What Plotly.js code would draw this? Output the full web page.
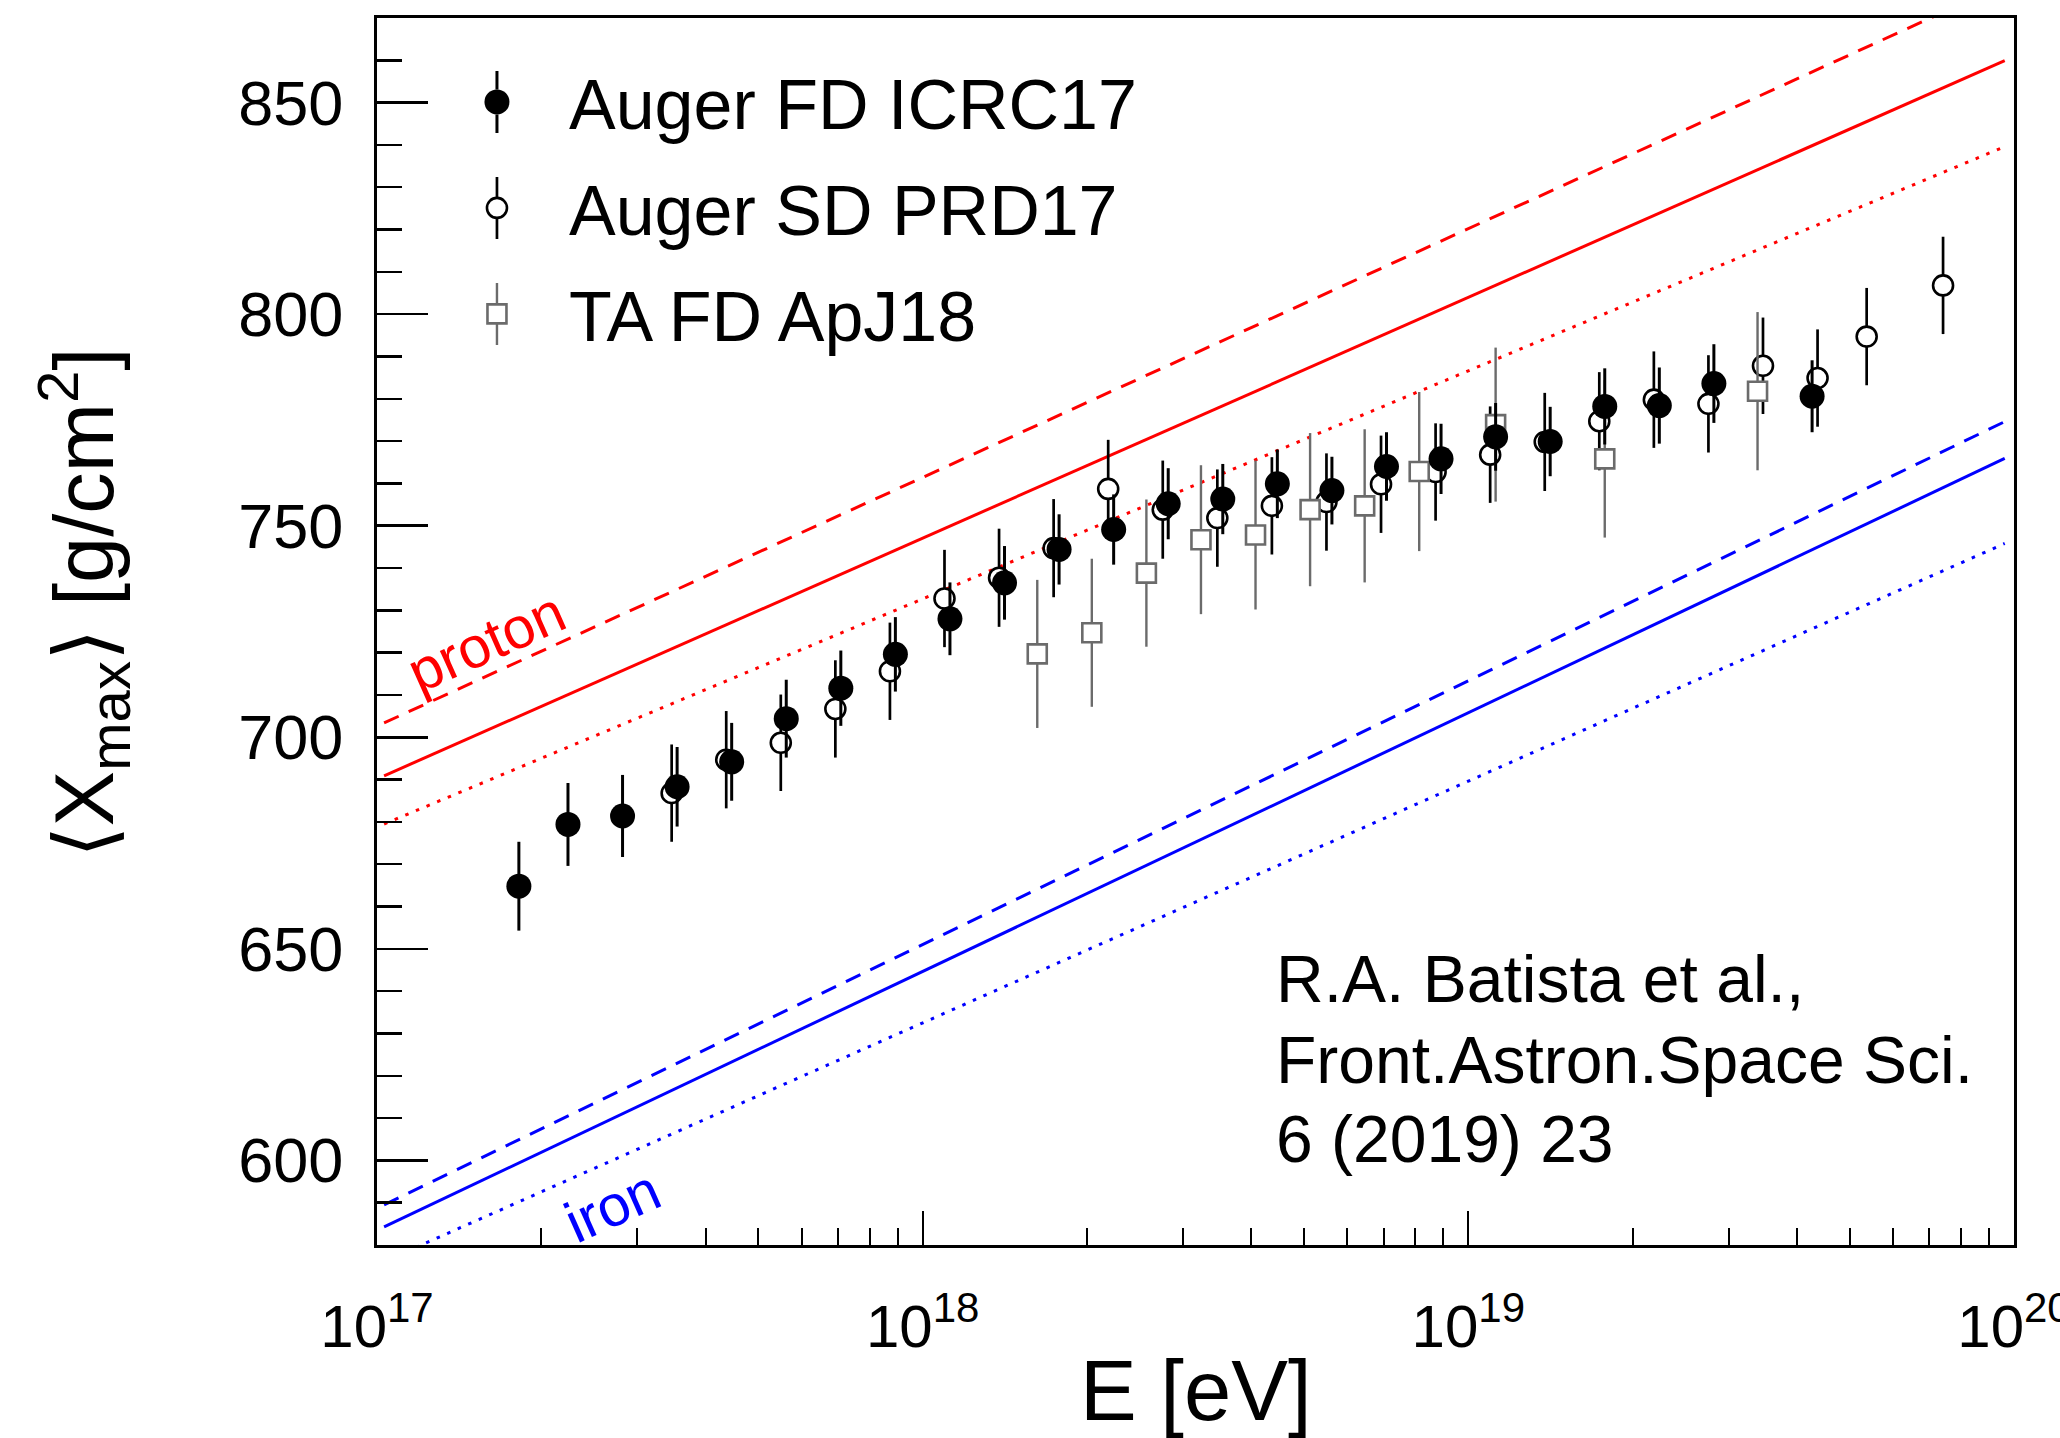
<!DOCTYPE html>
<html>
<head>
<meta charset="utf-8">
<script src="https://cdn.plot.ly/plotly-3.0.1.min.js"></script>
<style>
html, body { margin: 0; padding: 0; background: #ffffff; }
#chart { width: 2060px; height: 1438px; }
</style>
</head>
<body>
<div id="chart"></div>
<script>
// ---------------- data ----------------
// Auger FD ICRC17 : lg(E/eV), <Xmax> [g/cm2], error
const fdLgE  = [17.26, 17.35, 17.45, 17.55, 17.65, 17.75, 17.85, 17.95, 18.05, 18.15, 18.25, 18.35,
                18.45, 18.55, 18.65, 18.75, 18.85, 18.95, 19.05, 19.15, 19.25, 19.35, 19.45, 19.63];
const fdXmax = [664.8, 679.4, 681.4, 688.3, 694.2, 704.4, 711.6, 719.6, 728.0, 736.5, 744.4, 749.1,
                755.2, 756.3, 759.9, 758.3, 764.0, 765.8, 771.0, 769.9, 778.2, 778.4, 783.6, 780.6];
const fdErr  = [10.5, 9.8, 9.7, 9.4, 9.2, 9.2, 8.9, 8.8, 8.6, 8.7, 8.3, 8.3,
                8.4, 8.3, 8.1, 8.0, 8.1, 8.3, 8.0, 8.2, 9.0, 9.0, 9.3, 8.5];

// Auger SD PRD17
const sdLgE  = [17.54, 17.64, 17.74, 17.84, 17.94, 18.04, 18.14, 18.24, 18.34, 18.44, 18.54, 18.64,
                18.74, 18.84, 18.94, 19.04, 19.14, 19.24, 19.34, 19.44, 19.54, 19.64, 19.73, 19.87];
const sdXmax = [686.8, 694.7, 698.7, 706.7, 715.6, 732.8, 737.7, 744.7, 758.7, 753.8, 751.8, 754.7,
                755.6, 759.8, 762.7, 766.8, 769.8, 774.7, 779.8, 778.8, 787.8, 784.9, 794.7, 806.8];
const sdErr  = [11.5, 11.5, 11.4, 11.5, 11.5, 11.5, 11.6, 11.6, 11.6, 11.6, 11.5, 11.5,
                11.5, 11.5, 11.5, 11.4, 11.6, 11.6, 11.4, 11.5, 11.4, 11.5, 11.5, 11.5];

// TA FD ApJ18
const taLgE  = [18.21, 18.31, 18.41, 18.51, 18.61, 18.71, 18.81, 18.91, 19.05, 19.25, 19.53];
const taXmax = [719.7, 724.7, 738.8, 746.7, 747.8, 753.8, 754.7, 762.8, 773.9, 765.8, 781.8];
const taErr  = [17.5, 17.5, 17.4, 17.6, 17.6, 18.1, 18.1, 18.8, 18.2, 18.6, 18.7];

// model expectations (straight lines in the picture): lg(E/eV) end points and <Xmax>
const modelLgE     = [17.013, 19.983];
const protonSolid  = [690.9, 859.9];
const protonDashed = [703.4, 878.0];
const protonDotted = [679.5, 839.6];
const ironSolid    = [584.3, 765.9];
const ironDashed   = [589.5, 774.6];
const ironDotted   = [576.1, 745.8];

// axis tick labels and texts
const xTickExp  = [17, 18, 19, 20];
const xTickText = ['10<sup>17</sup>', '10<sup>18</sup>', '10<sup>19</sup>', '10<sup>20</sup>'];
const seriesNames = ['Auger FD ICRC17', 'Auger SD PRD17', 'TA FD ApJ18'];
const refLines = ['R.A. Batista et al.,', 'Front.Astron.Space Sci.', '6 (2019) 23'];

// ---------------- styling ----------------
const FONT = '"Liberation Sans", Arial, Helvetica, sans-serif';
const RED = '#ff0000', BLUE = '#0000ff', GREY = '#6b6b6b';
const DASH = '16px,11px', DOT = '3.5px,8px';

const toE = arr => arr.map(v => Math.pow(10, v));

function modelTrace(vals, color, dash) {
  return {
    type: 'scatter', mode: 'lines', x: toE(modelLgE), y: vals,
    line: {color: color, width: 3, dash: dash}, showlegend: false, hoverinfo: 'skip'
  };
}

const traces = [
  modelTrace(protonDashed, RED, DASH),
  modelTrace(protonSolid, RED, 'solid'),
  modelTrace(protonDotted, RED, DOT),
  modelTrace(ironDashed, BLUE, DASH),
  modelTrace(ironSolid, BLUE, 'solid'),
  modelTrace(ironDotted, BLUE, DOT),
  {
    type: 'scatter', mode: 'markers', name: seriesNames[1], legendgroup: 'sd', legendrank: 2,
    x: toE(sdLgE), y: sdXmax,
    error_y: {type: 'data', array: sdErr, visible: true, color: '#000000', thickness: 2.7, width: 0},
    marker: {symbol: 'circle', size: 20, color: '#ffffff', line: {color: '#000000', width: 2.6}}
  },
  {
    type: 'scatter', mode: 'markers', name: seriesNames[2], legendgroup: 'ta', legendrank: 3,
    x: toE(taLgE), y: taXmax,
    error_y: {type: 'data', array: taErr, visible: true, color: GREY, thickness: 2.4, width: 0},
    marker: {symbol: 'square', size: 19, color: '#ffffff', line: {color: GREY, width: 2.6}}
  },
  {
    type: 'scatter', mode: 'markers', name: seriesNames[0], legendgroup: 'fd', legendrank: 1,
    x: toE(fdLgE), y: fdXmax,
    error_y: {type: 'data', array: fdErr, visible: true, color: '#000000', thickness: 3, width: 0},
    marker: {symbol: 'circle', size: 25, color: '#000000', line: {width: 0}}
  }
];

// minor ticks of the log axis at 2..9 x 10^n
const minorX = [];
for (let d = 17; d < 20; d++) for (let k = 2; k <= 9; k++) minorX.push(k * Math.pow(10, d));

const annotations = [
  {xref: 'paper', yref: 'paper', x: 0.5, y: -0.1182, xanchor: 'center', yanchor: 'middle',
   text: 'E [eV]', showarrow: false, font: {size: 85, family: FONT, color: '#000'}},
  {xref: 'paper', yref: 'paper', x: -0.1793, y: 0.5235, xanchor: 'center', yanchor: 'middle',
   textangle: -90, text: '⟨X<sub>max</sub>⟩ [g/cm<sup>2</sup>]', showarrow: false,
   font: {size: 83, family: FONT, color: '#000'}},
  {xref: 'x', yref: 'y', x: 17.1996, y: 722.6, text: 'proton', textangle: -24, showarrow: false,
   font: {size: 58, family: FONT, color: RED}},
  {xref: 'x', yref: 'y', x: 17.4315, y: 589.3, text: 'iron', textangle: -24, showarrow: false,
   font: {size: 58, family: FONT, color: BLUE}},
  {xref: 'paper', yref: 'paper', x: 0.548, y: 0.2171, xanchor: 'left', yanchor: 'middle',
   text: refLines[0], showarrow: false, font: {size: 66, family: FONT, color: '#000'}},
  {xref: 'paper', yref: 'paper', x: 0.548, y: 0.1511, xanchor: 'left', yanchor: 'middle',
   text: refLines[1], showarrow: false, font: {size: 66, family: FONT, color: '#000'}},
  {xref: 'paper', yref: 'paper', x: 0.548, y: 0.0860, xanchor: 'left', yanchor: 'middle',
   text: refLines[2], showarrow: false, font: {size: 66, family: FONT, color: '#000'}}
];

const layout = {
  width: 2060, height: 1438,
  margin: {l: 377, r: 46, t: 18, b: 193, pad: 0},
  paper_bgcolor: '#ffffff', plot_bgcolor: '#ffffff',
  font: {family: FONT, color: '#000000', size: 60},
  showlegend: true,
  legend: {
    x: 0.0293, y: 0.974, xanchor: 'left', yanchor: 'top',
    font: {size: 70, family: FONT, color: '#000'},
    bgcolor: 'rgba(0,0,0,0)', borderwidth: 0,
    itemwidth: 134, tracegroupgap: 12, traceorder: 'grouped'
  },
  xaxis: {
    type: 'log', range: [17, 20],
    tickmode: 'array', tickvals: toE(xTickExp), ticktext: xTickText,
    ticks: 'inside', ticklen: 34, tickwidth: 2, tickcolor: '#000',
    showline: true, linewidth: 3, linecolor: '#000', mirror: true,
    showgrid: false, zeroline: false, ticklabeloverflow: 'allow',
    tickfont: {size: 60, family: FONT, color: '#000'}, ticklabelstandoff: 27,
    minor: {tickmode: 'array', tickvals: minorX, ticks: 'inside', ticklen: 17, tickwidth: 2,
            tickcolor: '#000', showgrid: false}
  },
  yaxis: {
    range: [580, 870], tick0: 600, dtick: 50,
    ticks: 'inside', ticklen: 51, tickwidth: 2.5, tickcolor: '#000',
    showline: true, linewidth: 3, linecolor: '#000', mirror: true,
    showgrid: false, zeroline: false,
    tickfont: {size: 63, family: FONT, color: '#000'}, ticklabelstandoff: 18,
    minor: {dtick: 10, ticks: 'inside', ticklen: 25, tickwidth: 2.5, tickcolor: '#000', showgrid: false}
  },
  annotations: annotations
};

Plotly.newPlot('chart', traces, layout, {staticPlot: true, displayModeBar: false}).then(function () {
  // enlarge legend symbols to the size of the plotted markers and add their error-bar stems
  document.querySelectorAll('.legend g.traces').forEach(function (g) {
    const d = g.__data__;
    const tr = d && d[0] && d[0].trace;
    const p = g.querySelector('path.scatterpts');
    if (!tr || !p) return;
    const size = tr.marker.size;
    const base = p.getAttribute('transform') || '';
    p.setAttribute('transform', base + ' scale(' + (size / 16) + ')');
    p.setAttribute('vector-effect', 'non-scaling-stroke');
    const r = size / 2;
    const stem = document.createElementNS('http://www.w3.org/2000/svg', 'path');
    stem.setAttribute('d', 'M0,-31V' + (-r) + 'M0,' + r + 'V31');
    stem.setAttribute('transform', base);
    stem.setAttribute('style', 'fill:none;stroke:' + tr.error_y.color + ';stroke-width:' + tr.error_y.thickness + 'px');
    p.parentNode.insertBefore(stem, p);
  });
});
</script>
</body>
</html>
